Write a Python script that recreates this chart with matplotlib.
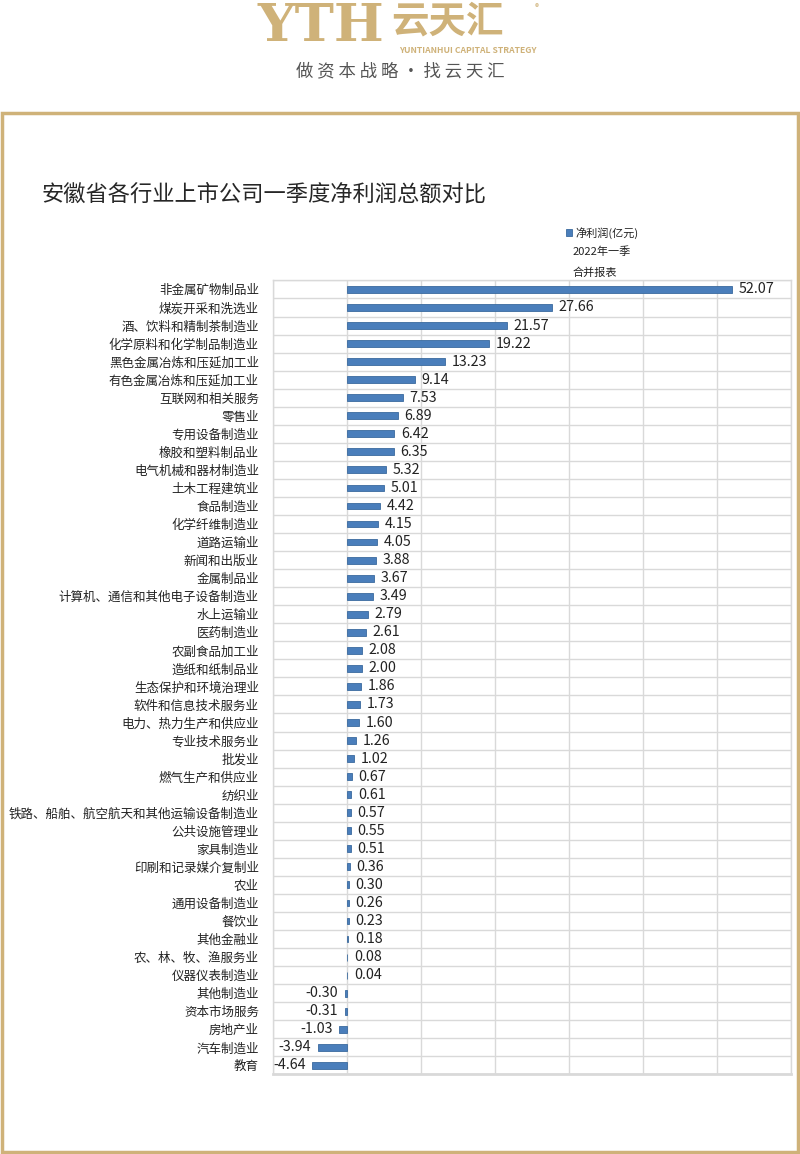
import matplotlib.pyplot as plt
from matplotlib.patches import Rectangle
import numpy as np

plt.rcParams['font.family'] = ['Noto Sans CJK SC', 'DejaVu Sans']

industries = ['非金属矿物制品业', '煤炭开采和洗选业', '酒、饮料和精制茶制造业', '化学原料和化学制品制造业',
              '黑色金属冶炼和压延加工业', '有色金属冶炼和压延加工业', '互联网和相关服务', '零售业',
              '专用设备制造业', '橡胶和塑料制品业', '电气机械和器材制造业', '土木工程建筑业',
              '食品制造业', '化学纤维制造业', '道路运输业', '新闻和出版业', '金属制品业',
              '计算机、通信和其他电子设备制造业', '水上运输业', '医药制造业', '农副食品加工业',
              '造纸和纸制品业', '生态保护和环境治理业', '软件和信息技术服务业', '电力、热力生产和供应业',
              '专业技术服务业', '批发业', '燃气生产和供应业', '纺织业',
              '铁路、船舶、航空航天和其他运输设备制造业', '公共设施管理业', '家具制造业',
              '印刷和记录媒介复制业', '农业', '通用设备制造业', '餐饮业', '其他金融业',
              '农、林、牧、渔服务业', '仪器仪表制造业', '其他制造业', '资本市场服务', '房地产业',
              '汽车制造业', '教育']
profit = [52.07, 27.66, 21.57, 19.22, 13.23, 9.14, 7.53, 6.89, 6.42, 6.35, 5.32, 5.01,
          4.42, 4.15, 4.05, 3.88, 3.67, 3.49, 2.79, 2.61, 2.08, 2.00, 1.86, 1.73, 1.60,
          1.26, 1.02, 0.67, 0.61, 0.57, 0.55, 0.51, 0.36, 0.30, 0.26, 0.23, 0.18, 0.08,
          0.04, -0.30, -0.31, -1.03, -3.94, -4.64]

gold = '#cfb279'
bar_color = '#4a7ebb'

fig = plt.figure(figsize=(8, 11.54), dpi=100)

# frame
fig.patches.append(Rectangle((0.002, 0.002), 0.996, 0.9, transform=fig.transFigure,
                             fill=False, edgecolor=gold, linewidth=2.5))

# logo header
fig.text(0.322, 0.977, 'YTH', ha='left', va='center', fontsize=38, fontweight='bold',
         color=gold, family='DejaVu Serif')
fig.text(0.489, 0.999, '云天汇', ha='left', va='top', fontsize=27, fontweight='bold', color=gold)
fig.text(0.668, 0.993, '®', ha='left', va='center', fontsize=6, color=gold)
fig.text(0.499, 0.9565, 'YUNTIANHUI CAPITAL STRATEGY', ha='left', va='center', fontsize=6.2,
         fontweight='bold', color=gold)
fig.text(0.5, 0.938, '做 资 本 战 略 • 找 云 天 汇', ha='center', va='center', fontsize=12.5,
         color='#555555')

# title
fig.text(0.052, 0.832, '安徽省各行业上市公司一季度净利润总额对比', ha='left', va='center',
         fontsize=16, color='#262626')

ax = fig.add_axes([0.341, 0.069, 0.648, 0.688])
y = np.arange(len(industries))
ax.barh(y, profit, height=0.38, color=bar_color, edgecolor='#3a6a9e', linewidth=0.6,
        label='净利润(亿元)', zorder=3)
ax.set_ylim(len(industries) - 0.5, -0.5)
ax.set_xlim(-10, 60)
ax.set_xticks(np.arange(-10, 61, 10))
ax.set_xticklabels([])
ax.tick_params(axis='x', length=0)
ax.set_yticks(y)
ax.set_yticklabels(industries, fontsize=9, color='#222222')
ax.tick_params(axis='y', length=0, pad=10)
ax.set_yticks(np.arange(-0.5, len(industries), 1), minor=True)
ax.tick_params(axis='y', which='minor', length=0)
ax.grid(axis='x', color='#d9d9d9', linewidth=1, zorder=0)
ax.grid(axis='y', which='minor', color='#d9d9d9', linewidth=1, zorder=0)
for s in ax.spines.values():
    s.set_color('#d9d9d9')
    s.set_linewidth(1)
ax.spines['bottom'].set_linewidth(2)

for yi, v in zip(y, profit):
    if v >= 0:
        ax.text(v + 0.9, yi, f'{v:.2f}', ha='left', va='center', fontsize=10.3, color='#222222')
    else:
        ax.text(v - 0.9, yi, f'{v:.2f}', ha='right', va='center', fontsize=10.3, color='#222222')

leg = fig.legend(loc='upper left', bbox_to_anchor=(0.700, 0.808), frameon=False, fontsize=8,
                 handlelength=0.6, handleheight=0.6, handletextpad=0.3, borderpad=0)
for t in leg.get_texts():
    t.set_color('#222222')
fig.text(0.716, 0.782, '2022年一季', ha='left', va='center', fontsize=8, color='#222222')
fig.text(0.716, 0.764, '合并报表', ha='left', va='center', fontsize=8, color='#222222')

fig.savefig('out.png', dpi=100)
